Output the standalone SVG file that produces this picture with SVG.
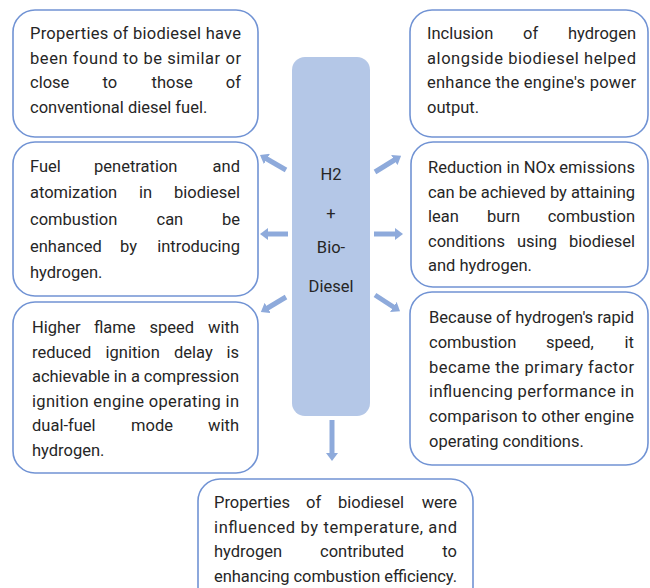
<svg xmlns="http://www.w3.org/2000/svg" width="650" height="588" viewBox="0 0 650 588">
<style>
.box{fill:#ffffff;stroke:#7193d4;stroke-width:1.6}
.core{fill:#b4c7e7}
text{font-family:Roboto,"Liberation Sans",sans-serif;font-size:16.5px;fill:#262626}
.c{text-anchor:middle}
.e{text-anchor:end}
.arr{stroke:#8eaadb;stroke-width:5;fill:none;marker-end:url(#ah)}
</style>
<defs>
<marker id="ah" viewBox="0 0 8 12" refX="2" refY="6" markerWidth="8" markerHeight="12" markerUnits="userSpaceOnUse" orient="auto">
<path d="M0,0 L8,6 L0,12 z" fill="#8eaadb"/>
</marker>
</defs>
<rect width="650" height="588" fill="#ffffff"/>

<g id="connectors">
<line class="arr" x1="286" y1="170" x2="265.2" y2="158"/>
<line class="arr" x1="288" y1="234" x2="266" y2="234"/>
<line class="arr" x1="286" y1="297" x2="266" y2="309"/>
<line class="arr" x1="375" y1="172" x2="396" y2="159"/>
<line class="arr" x1="374" y1="234" x2="397" y2="234"/>
<line class="arr" x1="375" y1="295" x2="395" y2="308"/>
<line class="arr" x1="332" y1="420" x2="332" y2="455"/>
</g>

<g id="center">
<rect class="core" x="292" y="57" width="78" height="359" rx="13"/>
<text class="c" x="331" y="180">H2</text>
<text class="c" x="331" y="219">+</text>
<text class="c" x="331" y="253">Bio-</text>
<text class="c" x="331" y="292">Diesel</text>
</g>

<g id="n1">
<rect class="box" x="13" y="10" width="245" height="127" rx="22"/>
<text x="30" y="39" textLength="211">Properties of biodiesel have</text>
<text x="30" y="64" textLength="211">been found to be similar or</text>
<text y="88"><tspan x="30">close</tspan><tspan x="102.5">to</tspan><tspan x="151.5">those</tspan></text>
<text class="e" x="241" y="88">of</text>
<text x="30" y="113">conventional diesel fuel.</text>
</g>

<g id="n2">
<rect class="box" x="410" y="10" width="238" height="127" rx="22"/>
<text y="39"><tspan x="427">Inclusion</tspan><tspan x="523">of</tspan></text>
<text class="e" x="636" y="39">hydrogen</text>
<text x="427" y="64" textLength="209">alongside biodiesel helped</text>
<text x="427" y="88" textLength="209">enhance the engine's power</text>
<text x="427" y="113">output.</text>
</g>

<g id="n3">
<rect class="box" x="13" y="142" width="245" height="154" rx="22"/>
<text y="172"><tspan x="30">Fuel</tspan><tspan x="94">penetration</tspan></text>
<text class="e" x="240" y="172">and</text>
<text y="198"><tspan x="30">atomization</tspan><tspan x="139">in</tspan></text>
<text class="e" x="240" y="198">biodiesel</text>
<text y="225"><tspan x="30">combustion</tspan><tspan x="156.5">can</tspan></text>
<text class="e" x="240" y="225">be</text>
<text y="252"><tspan x="30">enhanced</tspan><tspan x="120">by</tspan></text>
<text class="e" x="240" y="252">introducing</text>
<text x="30" y="278">hydrogen.</text>
</g>

<g id="n4">
<rect class="box" x="411" y="142" width="237" height="145" rx="22"/>
<text x="428" y="173" textLength="207">Reduction in NOx emissions</text>
<text x="428" y="197.5" textLength="207">can be achieved by attaining</text>
<text y="222"><tspan x="428">lean</tspan><tspan x="487">burn</tspan></text>
<text class="e" x="635" y="222">combustion</text>
<text y="246.5"><tspan x="428">conditions</tspan><tspan x="517">using</tspan></text>
<text class="e" x="635" y="246.5">biodiesel</text>
<text x="428" y="271">and hydrogen.</text>
</g>

<g id="n5">
<rect class="box" x="13" y="302" width="245" height="171" rx="22"/>
<text y="333"><tspan x="32">Higher</tspan><tspan x="94">flame</tspan><tspan x="149.5">speed</tspan></text>
<text class="e" x="239" y="333">with</text>
<text y="357.6"><tspan x="32">reduced</tspan><tspan x="105.5">ignition</tspan><tspan x="174">delay</tspan></text>
<text class="e" x="239" y="357.6">is</text>
<text x="32" y="382.2" textLength="207">achievable in a compression</text>
<text x="32" y="406.8" textLength="207">ignition engine operating in</text>
<text y="431.4"><tspan x="32">dual-fuel</tspan><tspan x="131">mode</tspan></text>
<text class="e" x="239" y="431.4">with</text>
<text x="32" y="456">hydrogen.</text>
</g>

<g id="n6">
<rect class="box" x="410" y="292" width="238" height="173" rx="22"/>
<text x="429" y="323" textLength="205">Because of hydrogen's rapid</text>
<text y="347.8"><tspan x="429">combustion</tspan><tspan x="546">speed,</tspan></text>
<text class="e" x="634" y="347.8">it</text>
<text x="429" y="372.6" textLength="205">became the primary factor</text>
<text x="429" y="397.4" textLength="205">influencing performance in</text>
<text x="429" y="422.2" textLength="205">comparison to other engine</text>
<text x="429" y="447">operating conditions.</text>
</g>

<g id="n7">
<rect class="box" x="198" y="479" width="275" height="130" rx="22"/>
<text y="508"><tspan x="214">Properties</tspan><tspan x="306">of</tspan><tspan x="338">biodiesel</tspan></text>
<text class="e" x="457" y="508">were</text>
<text x="214" y="532.7" textLength="243">influenced by temperature, and</text>
<text y="557.3"><tspan x="214">hydrogen</tspan><tspan x="320">contributed</tspan></text>
<text class="e" x="457" y="557.3">to</text>
<text x="214" y="582" textLength="243">enhancing combustion efficiency.</text>
</g>
</svg>
